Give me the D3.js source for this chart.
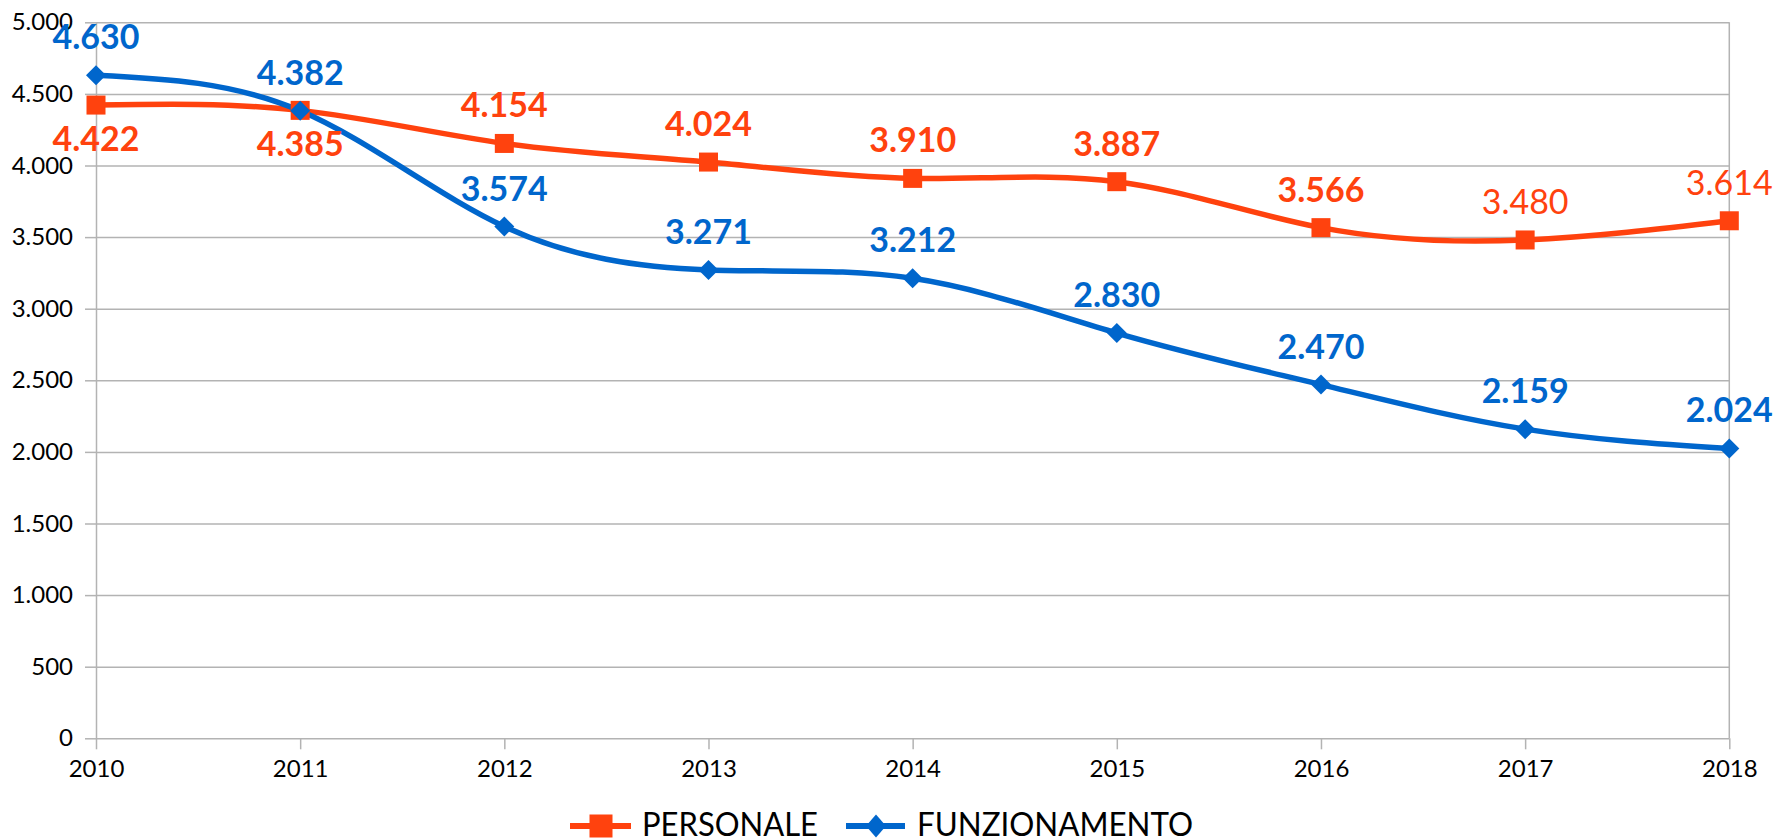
<!DOCTYPE html>
<html lang="it">
<head>
<meta charset="utf-8">
<script src="https://d3js.org/d3.v7.min.js"></script>
<style type="text/css">

body {
  margin: 0;
  background-color: #ffffff;
  font-family: Lato, "Open Sans", sans-serif;
}

.axis text {
  font: 24px Lato, sans-serif;
  fill: #000;
}

.axis line, .axis path {
  fill: none;
  stroke: #b3b3b3;
  stroke-width: 1.5;
}

</style>
</head>
<body>
<script type="text/javascript">

// Data
var years = [2010, 2011, 2012, 2013, 2014, 2015, 2016, 2017, 2018];
var personale = [4422, 4385, 4154, 4024, 3910, 3887, 3566, 3480, 3614];
var funzionamento = [4630, 4382, 3574, 3271, 3212, 2830, 2470, 2159, 2024];
var yTicks = [0, 500, 1000, 1500, 2000, 2500, 3000, 3500, 4000, 4500, 5000];
var seriesNames = ["PERSONALE", "FUNZIONAMENTO"];

// label tweaks (which years get the label under the point / in regular weight)
var personaleBelow = [2010, 2011];
var personalePlain = [2017, 2018];

var width = 1779;
var height = 839;
var margin = {top: 22.3, right: 49.7, bottom: 100.7, left: 96};
var plotW = width - margin.left - margin.right;
var plotH = height - margin.top - margin.bottom;

var orange = "#ff420e";
var blue = "#0066cc";

// italian number format: 4.630
var it = d3.formatLocale({decimal: ",", thousands: ".", grouping: [3], currency: ["", " €"]});
var fmt = it.format(",d");

var x = d3.scalePoint().domain(years).range([0, plotW]);
var y = d3.scaleLinear().domain([0, 5000]).range([plotH, 0]);

var svg = d3.select("body")
  .append("svg")
  .attr("width", width)
  .attr("height", height);

var g = svg.append("g")
  .attr("transform", "translate(" + margin.left + "," + margin.top + ")");

// horizontal gridlines
g.append("g")
  .attr("class", "axis grid")
  .call(d3.axisLeft(y).tickValues(yTicks).tickSize(-plotW).tickFormat(""))
  .call(function(s) { s.select(".domain").remove(); });

// right border
g.append("line")
  .attr("x1", plotW).attr("x2", plotW)
  .attr("y1", 0).attr("y2", plotH)
  .attr("stroke", "#b3b3b3")
  .attr("stroke-width", 1.5);

// y axis
g.append("g")
  .attr("class", "axis")
  .call(d3.axisLeft(y).tickValues(yTicks).tickSize(11).tickSizeOuter(0).tickPadding(12).tickFormat(fmt));

// x axis
g.append("g")
  .attr("class", "axis")
  .attr("transform", "translate(0," + plotH + ")")
  .call(d3.axisBottom(x).tickSize(11).tickSizeOuter(0).tickPadding(11))
  .call(function(s) { s.select(".domain").remove(); });

var line = d3.line()
  .x(function(d) { return x(d.year); })
  .y(function(d) { return y(d.value); })
  .curve(d3.curveNatural);

function toPoints(values) {
  return values.map(function(v, i) { return {year: years[i], value: v}; });
}

var persData = toPoints(personale);
var funzData = toPoints(funzionamento);

// lines
g.append("path")
  .datum(persData)
  .attr("d", line)
  .attr("fill", "none")
  .attr("stroke", orange)
  .attr("stroke-width", 5.5);

g.append("path")
  .datum(funzData)
  .attr("d", line)
  .attr("fill", "none")
  .attr("stroke", blue)
  .attr("stroke-width", 5.5);

// markers
var sq = 19;
g.selectAll(".sq")
  .data(persData)
  .enter()
  .append("rect")
  .attr("x", function(d) { return x(d.year) - sq / 2; })
  .attr("y", function(d) { return y(d.value) - sq / 2; })
  .attr("width", sq)
  .attr("height", sq)
  .attr("fill", orange);

var dm = 10;
g.selectAll(".dm")
  .data(funzData)
  .enter()
  .append("path")
  .attr("transform", function(d) { return "translate(" + x(d.year) + "," + y(d.value) + ")"; })
  .attr("d", "M0," + (-dm) + "L" + dm + ",0L0," + dm + "L" + (-dm) + ",0Z")
  .attr("fill", blue);

// data labels
g.selectAll(".lp")
  .data(persData)
  .enter()
  .append("text")
  .attr("x", function(d) { return x(d.year); })
  .attr("y", function(d) {
    return personaleBelow.indexOf(d.year) >= 0 ? y(d.value) + 46 : y(d.value) - 26;
  })
  .attr("text-anchor", "middle")
  .attr("font-size", 34)
  .attr("font-weight", function(d) { return personalePlain.indexOf(d.year) >= 0 ? "normal" : "bold"; })
  .attr("fill", orange)
  .text(function(d) { return fmt(d.value); });

g.selectAll(".lf")
  .data(funzData)
  .enter()
  .append("text")
  .attr("x", function(d) { return x(d.year); })
  .attr("y", function(d) { return y(d.value) - 26; })
  .attr("text-anchor", "middle")
  .attr("font-size", 34)
  .attr("font-weight", "bold")
  .attr("fill", blue)
  .text(function(d) { return fmt(d.value); });

// legend
var legend = svg.append("g").attr("transform", "translate(0,826)");

legend.append("line")
  .attr("x1", 570).attr("x2", 631).attr("y1", 0).attr("y2", 0)
  .attr("stroke", orange).attr("stroke-width", 6);
legend.append("rect")
  .attr("x", 589.5).attr("y", -11.5).attr("width", 23).attr("height", 23)
  .attr("fill", orange);
legend.append("text")
  .attr("x", 642).attr("y", 9.5)
  .attr("font-size", 32)
  .attr("textLength", 176)
  .attr("lengthAdjust", "spacingAndGlyphs")
  .text(seriesNames[0]);

legend.append("line")
  .attr("x1", 846).attr("x2", 905).attr("y1", 0).attr("y2", 0)
  .attr("stroke", blue).attr("stroke-width", 6);
legend.append("path")
  .attr("d", "M876,-11.5L886,0L876,11.5L866,0Z")
  .attr("fill", blue);
legend.append("text")
  .attr("x", 917).attr("y", 9.5)
  .attr("font-size", 32)
  .attr("textLength", 276)
  .attr("lengthAdjust", "spacingAndGlyphs")
  .text(seriesNames[1]);

</script>
</body>
</html>
